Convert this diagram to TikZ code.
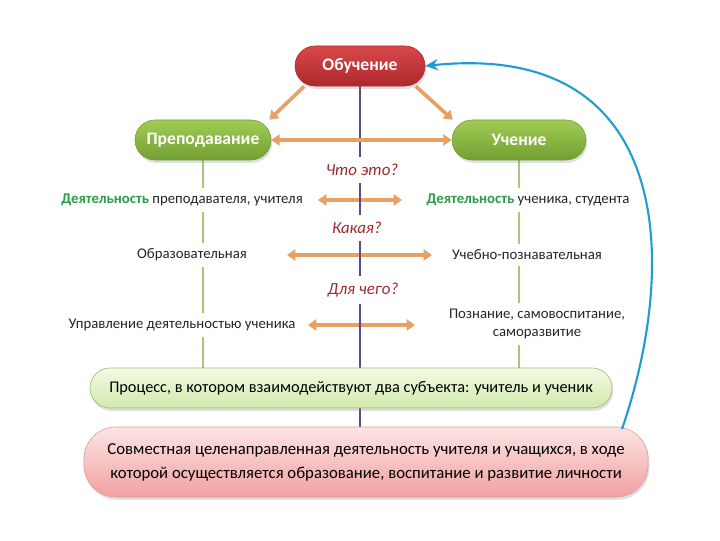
\documentclass[tikz,border=0pt]{standalone}
\usepackage{fontspec}
\setmainfont{Carlito}
\usepackage{tikz}
\usetikzlibrary{positioning, arrows.meta, calc, shadows}
\usepackage{xcolor}
\definecolor{obred}{HTML}{D8484A}
\definecolor{obreddark}{HTML}{AE282C}
\definecolor{prgreen}{HTML}{A0CC55}
\definecolor{prgreendark}{HTML}{729F31}
\definecolor{proclight}{HTML}{F3FAE4}
\definecolor{procdark}{HTML}{D3E9AC}
\definecolor{pinklight}{HTML}{FCE4E4}
\definecolor{pinkdark}{HTML}{F2A0A0}
\definecolor{arrorange}{HTML}{E9A064}
\definecolor{axpurple}{HTML}{5B4A8B}
\definecolor{lngreen}{HTML}{A9C77A}
\definecolor{txtgreen}{HTML}{2E9B49}
\definecolor{qred}{HTML}{9E2A2F}
\definecolor{loopblue}{HTML}{1F9DD0}
\definecolor{txtgray}{HTML}{262626}
\pgfdeclarelayer{background}
\pgfsetlayers{background,main}

\tikzset{
  pill/.style={rounded corners=0.5cm, minimum height=1cm, align=center,
    drop shadow={opacity=0.25, shadow xshift=0.03cm, shadow yshift=-0.07cm}},
  title/.style={pill, font=\fontsize{12.5}{14}\selectfont\bfseries, text=white},
  rowtext/.style={fill=white, inner sep=4pt, text=txtgray, align=center,
    font=\fontsize{10.5}{13}\selectfont},
  question/.style={fill=white, inner sep=5pt, text=qred,
    font=\fontsize{12}{14}\selectfont\itshape},
  orarrow/.style={{Triangle[width=8pt,length=6pt]}-{Triangle[width=8pt,length=6pt]},
    line width=2.6pt, color=arrorange},
  orsingle/.style={-{Triangle[width=8pt,length=6pt]}, line width=2.6pt, color=arrorange}
}

\begin{document}
\begin{tikzpicture}[x=0.025cm, y=-0.025cm, font=\fontsize{11}{13}\selectfont]
    \useasboundingbox (0,0) rectangle (720,540);

    \node[title, minimum width=3.25cm, top color=obred, bottom color=obreddark, draw=obreddark] (obuch) at (360,66) {Обучение};
    \node[title, minimum width=3.4cm, top color=prgreen, bottom color=prgreendark, draw=prgreendark] (prep) at (203,140) {Преподавание};
    \node[title, minimum width=3.35cm, top color=prgreen, bottom color=prgreendark, draw=prgreendark] (uch) at (519,140) {Учение};

    \node[question] (q1) at (362,170) {Что это?};
    \node[question] (q2) at (357,228) {Какая?};
    \node[question] (q3) at (363,290) {Для чего?};

    \node[rowtext] (l1) at (182,200) {{\color{txtgreen}\bfseries Деятельность} преподавателя, учителя};
    \node[rowtext] (r1) at (528,200) {{\color{txtgreen}\bfseries Деятельность} ученика, студента};
    \node[rowtext] (l2) at (192,255) {Образовательная};
    \node[rowtext] (r2) at (527,255) {Учебно-познавательная};
    \node[rowtext] (l3) at (182,325) {Управление деятельностью ученика};
    \node[rowtext] (r3) at (537,324) {Познание, самовоспитание,\\саморазвитие};

    \node[pill, minimum width=13.05cm, top color=proclight, bottom color=procdark, draw=lngreen!70!gray,
      font=\fontsize{11.6}{14}\selectfont] (proc) at (351,388) {Процесс, в котором взаимодействуют два субъекта: учитель и ученик};
    \node[pill, minimum width=14.1cm, minimum height=1.75cm, rounded corners=0.8cm, top color=pinklight,
      bottom color=pinkdark, draw=pinkdark!80!gray, font=\fontsize{11.9}{17}\selectfont] (sovm) at (366,462)
      {Совместная целенаправленная деятельность учителя и учащихся, в ходе\\которой осуществляется образование, воспитание и развитие личности};

    \coordinate (a1l) at (318,200);
    \coordinate (a1r) at (402,200);
    \coordinate (a2l) at (287,255);
    \coordinate (a2r) at (432,255);
    \coordinate (a3l) at (308,325);
    \coordinate (a3r) at (415,325);

    \begin{pgfonlayer}{background}
      \draw[orarrow] (a1l) -- (a1r);
      \draw[orarrow] (a2l) -- (a2r);
      \draw[orarrow] (a3l) -- (a3r);
      \draw[color=axpurple, line width=1.3pt] (obuch.south) -- (obuch.south |- sovm.north);
      \draw[color=lngreen, line width=1.3pt] (prep.south) -- (prep.south |- proc.north);
      \draw[color=lngreen, line width=1.3pt] (uch.south) -- (uch.south |- proc.north);
    \end{pgfonlayer}

    \draw[orsingle] (obuch.-160) -- (prep.17);
    \draw[orsingle] (obuch.-20) -- (uch.163);
    \draw[orarrow] (prep.east) -- (uch.west);

    \coordinate (bstart) at (622,429);
    \draw[-{Stealth[length=9pt,width=8pt]}, color=loopblue, line width=1.5pt]
      (bstart) .. controls (680,260) and (672,40) .. (obuch.east);
  \end{tikzpicture}
\end{document}
